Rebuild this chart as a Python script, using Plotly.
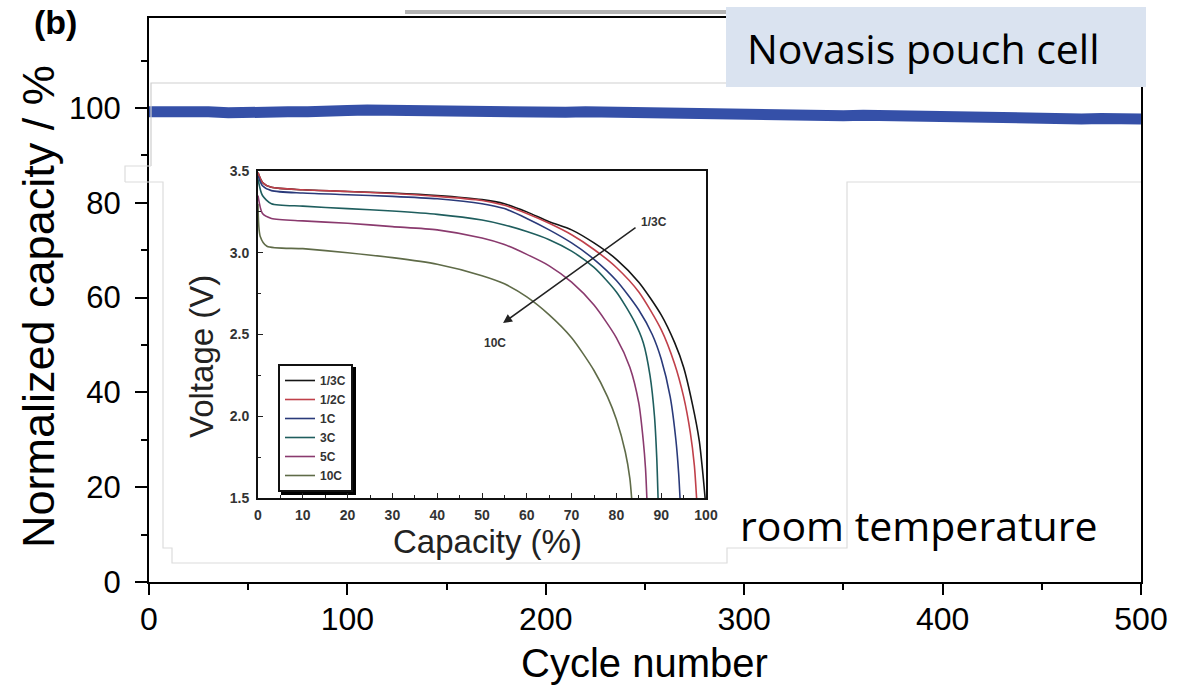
import plotly.graph_objects as go

W, H = 1194, 688

# ---------------- main data (cycle number vs normalized capacity) ----------------
cycles = list(range(0, 501, 10))
capacity = [99.2, 99.3, 99.1, 99.2, 99.0, 99.2, 99.1, 99.2, 99.2, 99.1,
            99.5, 99.6, 99.5, 99.5, 99.4,
            99.2, 99.1, 99.2, 99.1, 99.2, 99.1, 99.1, 99.2, 99.1, 99.0,
            99.0, 98.9, 98.9, 98.8, 98.9, 98.8, 98.8,
            98.6, 98.5, 98.5, 98.4, 98.5, 98.4,
            98.1, 98.0, 98.0, 97.9, 98.0, 97.9, 98.0,
            97.8, 97.8, 97.7, 97.8, 97.7, 97.7]

# ---------------- inset data (discharge curves at different C-rates) ----------------
rates = ["1/3C", "1/2C", "1C", "3C", "5C", "10C"]
rate_colors = ["#151515", "#c0404a", "#2a3a7a", "#1f5e5e", "#8a3a6e", "#5f6b48"]

cap_13C = [0, 1, 3, 10, 20, 30, 40, 50, 55, 60, 65, 70, 75, 80, 85, 90, 93, 95, 97, 98.5, 99.3, 99.8]
v_13C = [3.49, 3.43, 3.40, 3.385, 3.375, 3.365, 3.35, 3.325, 3.30, 3.25, 3.19, 3.14, 3.06, 2.96, 2.82, 2.62, 2.45, 2.30, 2.07, 1.85, 1.65, 1.5]

cap_12C = [0, 1, 3, 10, 20, 30, 40, 50, 55, 60, 65, 70, 75, 80, 85, 90, 93, 95, 96.5, 97.4, 97.9]
v_12C = [3.49, 3.43, 3.40, 3.385, 3.375, 3.362, 3.345, 3.32, 3.29, 3.24, 3.18, 3.11, 3.02, 2.91, 2.76, 2.53, 2.32, 2.12, 1.90, 1.70, 1.5]

cap_1C = [0, 1, 3, 10, 20, 30, 40, 50, 55, 60, 65, 70, 75, 80, 85, 88, 90, 92, 93.3, 93.9, 94.2]
v_1C = [3.47, 3.41, 3.38, 3.365, 3.355, 3.345, 3.33, 3.30, 3.27, 3.21, 3.14, 3.06, 2.96, 2.83, 2.65, 2.50, 2.35, 2.12, 1.85, 1.65, 1.5]

cap_3C = [0, 1, 3, 10, 20, 30, 40, 50, 55, 60, 65, 70, 75, 80, 84, 86, 87.5, 88.5, 89, 89.3]
v_3C = [3.45, 3.35, 3.30, 3.285, 3.27, 3.255, 3.235, 3.20, 3.17, 3.13, 3.08, 3.01, 2.91, 2.76, 2.58, 2.45, 2.25, 2.0, 1.75, 1.5]

cap_5C = [0, 1, 3, 10, 20, 30, 40, 50, 55, 60, 65, 70, 75, 80, 83, 85, 86, 86.5, 86.8]
v_5C = [3.35, 3.24, 3.21, 3.195, 3.18, 3.16, 3.14, 3.09, 3.05, 2.99, 2.92, 2.82, 2.68, 2.48, 2.30, 2.08, 1.85, 1.68, 1.5]

cap_10C = [0, 0.5, 2, 10, 20, 30, 40, 50, 55, 60, 65, 70, 75, 78, 80, 82, 83, 83.4]
v_10C = [3.30, 3.10, 3.04, 3.025, 3.0, 2.97, 2.93, 2.86, 2.81, 2.73, 2.62, 2.48, 2.28, 2.12, 1.98, 1.78, 1.62, 1.5]

inset_caps = [cap_13C, cap_12C, cap_1C, cap_3C, cap_5C, cap_10C]
inset_volts = [v_13C, v_12C, v_1C, v_3C, v_5C, v_10C]

main_x_ticks = [0, 100, 200, 300, 400, 500]
main_y_ticks = [0, 20, 40, 60, 80, 100]
inset_x_ticks = list(range(0, 101, 10))
inset_y_ticks = [1.5, 2.0, 2.5, 3.0, 3.5]


def px(x):
    return x / W


def py(y):
    return 1 - y / H


ARIAL = "Liberation Sans, Arial, sans-serif"
CALIBRI = "Open Sans, Noto Sans, sans-serif"

fig = go.Figure()

fig.add_trace(go.Scatter(
    x=cycles, y=capacity, mode="lines",
    line=dict(color="#3550a8", width=11),
    showlegend=False, xaxis="x", yaxis="y", hoverinfo="skip"))

for name, col, cx, cv in zip(rates, rate_colors, inset_caps, inset_volts):
    fig.add_trace(go.Scatter(
        x=cx, y=cv, mode="lines", name=name,
        line=dict(color=col, width=1.6, shape="spline", smoothing=0.7),
        xaxis="x2", yaxis="y2", showlegend=True, hoverinfo="skip"))

main_axis = dict(showgrid=False, zeroline=False, showline=True, linecolor="black",
                 linewidth=2, mirror=True, ticks="outside", tickwidth=1.5,
                 tickcolor="black", automargin=False)

fig.update_layout(
    width=W, height=H,
    margin=dict(l=0, r=0, t=0, b=0, autoexpand=False),
    paper_bgcolor="white", plot_bgcolor="rgba(0,0,0,0)",
    xaxis=dict(**main_axis, domain=[px(149), px(1141)], range=[0, 500],
               tickvals=main_x_ticks, ticklen=11, anchor="y",
               tickfont=dict(family=ARIAL, size=32, color="black"),
               ticklabelstandoff=-3,
               minor=dict(dtick=50, tick0=0, ticks="outside", ticklen=6,
                          tickwidth=1.5, tickcolor="black", showgrid=False)),
    yaxis=dict(**main_axis, domain=[py(582), py(18)], range=[0, 119],
               tickvals=main_y_ticks, ticklen=12, anchor="x",
               tickfont=dict(family=ARIAL, size=31, color="black"),
               ticklabelstandoff=8,
               minor=dict(dtick=10, tick0=0, ticks="outside", ticklen=6,
                          tickwidth=1.5, tickcolor="black", showgrid=False)),
    xaxis2=dict(domain=[px(258), px(706)], range=[0, 100], anchor="y2",
                showgrid=False, zeroline=False, showline=True, linecolor="#111",
                linewidth=2, mirror=True, ticks="inside", ticklen=5, tickwidth=1.3,
                tickcolor="#222", tickvals=inset_x_ticks, automargin=False,
                tickfont=dict(family=ARIAL, size=14, color="#333", weight="bold"),
                ticklabelstandoff=3,
                minor=dict(dtick=5, tick0=0, ticks="inside", ticklen=3,
                           tickwidth=1.2, tickcolor="#222", showgrid=False)),
    yaxis2=dict(domain=[py(498), py(171)], range=[1.5, 3.5], anchor="x2",
                showgrid=False, zeroline=False, showline=True, linecolor="#111",
                linewidth=2, mirror=True, ticks="inside", ticklen=5, tickwidth=1.3,
                tickcolor="#222", tickvals=inset_y_ticks, tickformat=".1f",
                automargin=False,
                tickfont=dict(family=ARIAL, size=14, color="#333", weight="bold"),
                ticklabelstandoff=4,
                minor=dict(dtick=0.25, tick0=1.5, ticks="inside", ticklen=3,
                           tickwidth=1.2, tickcolor="#222", showgrid=False)),
    legend=dict(x=px(278), y=py(364), xanchor="left", yanchor="top",
                bgcolor="white", bordercolor="#111", borderwidth=2,
                font=dict(family=ARIAL, size=12, color="#333", weight="bold"),
                tracegroupgap=0, itemwidth=30),
)

shapes = []
gray = "#cfcfcf"
# legend shadow
shapes.append(dict(type="rect", xref="paper", yref="paper",
                   x0=px(281), x1=px(356), y0=py(495), y1=py(367),
                   fillcolor="black", line=dict(width=0), layer="below"))
# faint outlines of pasted image regions
shapes.append(dict(type="path", xref="paper", yref="paper",
                   path=f"M {px(151)},{py(166)} L {px(151)},{py(83)} L {px(1141)},{py(83)}",
                   line=dict(color=gray, width=1.2)))
shapes.append(dict(type="path", xref="paper", yref="paper",
                   path=(f"M {px(125)},{py(182)} L {px(125)},{py(166)} L {px(151)},{py(166)} "
                         f"M {px(125)},{py(182)} L {px(163)},{py(182)} L {px(163)},{py(548)} "
                         f"L {px(172)},{py(548)} L {px(172)},{py(563)} L {px(727)},{py(563)} "
                         f"L {px(727)},{py(548)} L {px(847)},{py(548)} L {px(847)},{py(182)} "
                         f"L {px(1141)},{py(182)}"),
                   line=dict(color="#dcdcdc", width=1.2)))
# grey bar at top
shapes.append(dict(type="line", xref="paper", yref="paper",
                   x0=px(405), x1=px(727), y0=py(12), y1=py(12),
                   line=dict(color="#b4b4b4", width=4)))
# label box
shapes.append(dict(type="rect", xref="paper", yref="paper",
                   x0=px(726), x1=px(1146), y0=py(87), y1=py(7),
                   fillcolor="#dae3f0", line=dict(width=0), layer="above"))
fig.update_layout(shapes=shapes)

ann = []
ann.append(dict(text="Normalized capacity / %", x=px(38), y=py(307), xref="paper", yref="paper",
                textangle=-90, showarrow=False, xanchor="center", yanchor="middle",
                font=dict(family=ARIAL, size=45, color="black")))
ann.append(dict(text="Cycle number", x=px(645), y=py(663), xref="paper", yref="paper",
                showarrow=False, xanchor="center", yanchor="middle",
                font=dict(family=ARIAL, size=40, color="black")))
ann.append(dict(text="<b>(b)</b>", x=px(55), y=py(22), xref="paper", yref="paper",
                showarrow=False, xanchor="center", yanchor="middle",
                font=dict(family=ARIAL, size=34, color="black")))
ann.append(dict(text="Novasis pouch cell", x=px(745), y=py(48), xref="paper", yref="paper",
                showarrow=False, xanchor="left", yanchor="middle",
                font=dict(family=CALIBRI, size=41, color="black")))
ann.append(dict(text="room temperature", x=px(738), y=py(525), xref="paper", yref="paper",
                showarrow=False, xanchor="left", yanchor="middle",
                font=dict(family=CALIBRI, size=41, color="black")))
ann.append(dict(text="Voltage (V)", x=px(201), y=py(357), xref="paper", yref="paper",
                textangle=-90, showarrow=False, xanchor="center", yanchor="middle",
                font=dict(family=ARIAL, size=33, color="#222")))
ann.append(dict(text="Capacity (%)", x=px(487), y=py(541), xref="paper", yref="paper",
                showarrow=False, xanchor="center", yanchor="middle",
                font=dict(family=ARIAL, size=33, color="#222")))
ann.append(dict(text="", x=54.7, y=2.57, xref="x2", yref="y2",
                ax=84.6, ay=3.16, axref="x2", ayref="y2", showarrow=True,
                arrowhead=2, arrowsize=1.2, arrowwidth=1.5, arrowcolor="#222"))
ann.append(dict(text="1/3C", x=88.5, y=3.19, xref="x2", yref="y2", showarrow=False,
                font=dict(family=ARIAL, size=12, color="#333", weight="bold")))
ann.append(dict(text="10C", x=52.9, y=2.45, xref="x2", yref="y2", showarrow=False,
                font=dict(family=ARIAL, size=12, color="#333", weight="bold")))
fig.update_layout(annotations=ann)

fig.write_html("out.html")
